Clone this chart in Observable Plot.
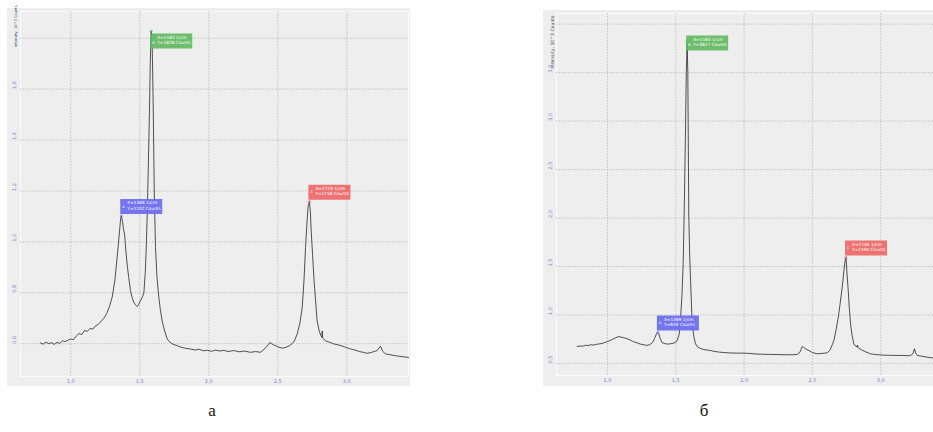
<!DOCTYPE html>
<html>
<head>
<meta charset="utf-8">
<script src="https://cdn.jsdelivr.net/npm/d3@7"></script>
<script src="https://cdn.jsdelivr.net/npm/@observablehq/plot@0.6"></script>
<style>
  html, body { margin: 0; padding: 0; background: #fff; }
  #root { position: relative; width: 933px; height: 432px; overflow: hidden; background: #fff; }
  .panel { position: absolute; }
  .cap { position: absolute; font-family: "Liberation Serif", "DejaVu Serif", serif; font-size: 17px; color: #111; transform: translateX(-50%); }
</style>
</head>
<body>
<div id="root">
  <div class="panel" id="pa" style="left:7px; top:8px;"></div>
  <div class="panel" id="pb" style="left:543px; top:10px;"></div>
  <div class="cap" style="left:212px; top:401px;">а</div>
  <div class="cap" style="left:704px; top:401px;">б</div>
</div>
<script>
// ---------- Data (x: Raman shift, 10^3 1/cm; y: intensity, 10^3 counts) ----------
const shiftA = [0.78,0.80,0.82,0.84,0.86,0.88,0.90,0.92,0.94,0.96,0.98,1.00,1.02,1.04,1.06,1.08,1.10,1.12,1.14,1.16,1.18,1.20,1.22,1.24,1.26,1.28,1.30,1.32,1.336,1.35,1.36,1.366,1.375,1.382,1.39,1.40,1.41,1.42,1.433,1.445,1.457,1.47,1.481,1.49,1.505,1.52,1.53,1.54,1.548,1.555,1.562,1.57,1.576,1.583,1.59,1.597,1.605,1.614,1.625,1.638,1.65,1.662,1.68,1.699,1.72,1.74,1.771,1.80,1.83,1.867,1.90,1.93,1.96,1.99,2.02,2.05,2.08,2.11,2.14,2.18,2.22,2.26,2.30,2.34,2.375,2.40,2.423,2.442,2.46,2.471,2.50,2.532,2.56,2.592,2.62,2.641,2.66,2.677,2.69,2.701,2.712,2.72,2.729,2.736,2.742,2.752,2.763,2.775,2.785,2.80,2.812,2.82,2.822,2.825,2.85,2.88,2.906,2.94,2.97,3.00,3.027,3.06,3.09,3.12,3.148,3.18,3.22,3.244,3.26,3.28,3.32,3.36,3.40,3.447];
const countsA = [0.603,0.598,0.606,0.600,0.604,0.597,0.605,0.601,0.611,0.608,0.614,0.618,0.616,0.630,0.640,0.636,0.652,0.648,0.660,0.657,0.670,0.676,0.688,0.700,0.718,0.745,0.782,0.850,0.938,1.020,1.082,1.102,1.080,1.050,1.030,0.960,0.905,0.860,0.808,0.780,0.762,0.752,0.746,0.752,0.769,0.785,0.800,0.880,0.990,1.130,1.300,1.500,1.700,1.828,1.780,1.550,1.200,0.978,0.860,0.782,0.730,0.690,0.650,0.618,0.605,0.598,0.592,0.586,0.582,0.579,0.575,0.578,0.572,0.574,0.570,0.575,0.571,0.574,0.569,0.573,0.568,0.571,0.566,0.569,0.566,0.578,0.590,0.605,0.598,0.595,0.588,0.582,0.586,0.594,0.610,0.638,0.680,0.742,0.850,0.978,1.080,1.140,1.158,1.120,1.043,0.950,0.847,0.760,0.690,0.650,0.632,0.625,0.650,0.622,0.610,0.605,0.599,0.595,0.590,0.584,0.579,0.575,0.569,0.566,0.562,0.566,0.573,0.590,0.570,0.560,0.556,0.552,0.549,0.546];

const shiftB = [0.778,0.80,0.82,0.84,0.86,0.876,0.90,0.92,0.94,0.96,0.973,1.00,1.02,1.046,1.06,1.083,1.10,1.12,1.144,1.17,1.19,1.217,1.24,1.27,1.29,1.31,1.33,1.345,1.36,1.369,1.376,1.385,1.40,1.42,1.44,1.461,1.48,1.50,1.51,1.525,1.534,1.545,1.554,1.562,1.57,1.577,1.583,1.588,1.595,1.601,1.608,1.615,1.62,1.632,1.644,1.66,1.68,1.705,1.73,1.754,1.78,1.82,1.851,1.90,1.95,1.998,2.04,2.08,2.12,2.16,2.193,2.24,2.30,2.35,2.389,2.41,2.425,2.435,2.45,2.48,2.50,2.535,2.57,2.608,2.63,2.657,2.675,2.693,2.718,2.732,2.742,2.746,2.752,2.762,2.77,2.779,2.79,2.803,2.815,2.827,2.829,2.835,2.86,2.89,2.925,2.96,3.00,3.04,3.08,3.12,3.16,3.20,3.218,3.235,3.247,3.255,3.267,3.30,3.34,3.386];
const countsB = [0.675,0.680,0.678,0.688,0.684,0.693,0.690,0.698,0.702,0.706,0.713,0.725,0.738,0.755,0.765,0.778,0.772,0.765,0.755,0.740,0.725,0.713,0.700,0.692,0.686,0.695,0.715,0.760,0.810,0.819,0.806,0.760,0.715,0.705,0.700,0.703,0.708,0.720,0.737,0.800,0.943,1.200,1.528,2.100,2.800,3.500,3.817,3.500,2.043,1.650,1.356,1.100,0.909,0.780,0.703,0.670,0.655,0.644,0.638,0.634,0.625,0.617,0.613,0.608,0.607,0.606,0.604,0.598,0.596,0.594,0.593,0.592,0.590,0.590,0.593,0.620,0.675,0.665,0.651,0.630,0.612,0.600,0.603,0.610,0.640,0.737,0.860,1.012,1.287,1.480,1.590,1.594,1.450,1.253,1.070,0.909,0.790,0.703,0.680,0.670,0.690,0.662,0.640,0.620,0.600,0.592,0.588,0.585,0.584,0.582,0.583,0.580,0.582,0.600,0.651,0.610,0.582,0.575,0.565,0.555];

// Peak markers (cm^-1 and counts as shown in the labels)
const peakLetters = ["A", "B", "C"];
const peakCmA = [1366, 1583, 2729];
const peakCountsA = [1102, 1828, 1158];
const peakCmB = [1369, 1583, 2746];
const peakCountsB = [819, 3817, 1594];
const peakColors = ["#6a6af0", "#62b962", "#ee6767"];

const xTickValues = [1.0, 1.5, 2.0, 2.5, 3.0];
const yGridA = [0.6, 0.8, 1.0, 1.2, 1.4, 1.6, 1.8];
const yLabelsA = [0.6, 0.8, 1.0, 1.2, 1.4, 1.6];
const yGridB = [0.5, 1.0, 1.5, 2.0, 2.5, 3.0, 3.5, 4.0];
const yLabelsB = [0.5, 1.0, 1.5, 2.0, 2.5, 3.0, 3.5];
const axisTitle = "Intensity, 10^3 Counts";

// ---------- Drawing ----------
const fmt = d => d.toFixed(1).replace(".", ",");
const tickColor = "#7f7fcc";

const boxAbove = { draw(ctx) { ctx.rect(-1, -17, 42, 15); } };
const boxTop = { draw(ctx) { ctx.rect(-1, 22, 42, 15); } };

function panel({shift, counts, cm, cnt, xDomain, yDomain, yGrid, yLabels, width, height, margin, titleSize, titleDy}) {
  const line = shift.map((x, i) => ({x, y: counts[i]}));
  const peaks = cm.map((c, i) => ({
    x: c / 1000, y: cnt[i] / 1000, letter: peakLetters[i], color: peakColors[i],
    text: `X=${c} 1/cm\nY=${cnt[i]} Counts`
  }));
  const maxY = d3.max(peaks, d => d.y);
  const top = peaks.filter(d => d.y === maxY);
  const rest = peaks.filter(d => d.y !== maxY);
  return Plot.plot({
    width, height,
    marginLeft: margin[0], marginTop: margin[1], marginRight: margin[2], marginBottom: margin[3],
    style: { background: "#eeeeee", fontFamily: "DejaVu Sans", overflow: "visible" },
    x: { domain: xDomain },
    y: { domain: yDomain, axis: null },
    marks: [
      Plot.frame({ stroke: "#fbfbfb", strokeWidth: 1 }),
      Plot.gridX(xTickValues, { stroke: "#b8b8b8", strokeOpacity: 1, strokeDasharray: "1.5,1.5", strokeWidth: 0.8 }),
      Plot.gridY(yGrid, { stroke: "#b8b8b8", strokeOpacity: 1, strokeDasharray: "1.5,1.5", strokeWidth: 0.8 }),
      Plot.axisX(xTickValues, { tickSize: 0, tickPadding: 3, fontSize: 5, fill: tickColor, tickFormat: fmt, label: null }),
      Plot.text(yLabels, { y: d => d, frameAnchor: "left", rotate: -90, dx: -6, fontSize: 5, fill: tickColor, text: fmt }),
      Plot.text([axisTitle], { frameAnchor: "top-left", rotate: -90, textAnchor: "end", dx: -6, dy: titleDy, fontSize: titleSize, fill: "#3a3a5a" }),
      Plot.line(line, { x: "x", y: "y", stroke: "#262626", strokeWidth: 0.8 }),
      Plot.dot(peaks, { x: "x", y: "y", r: 1.2, stroke: d => d.color, fill: "none", strokeWidth: 0.6 }),
      Plot.dot(rest, { x: "x", y: "y", symbol: boxAbove, fill: d => d.color, fillOpacity: 0.92, r: 4 }),
      Plot.text(rest, { x: "x", y: "y", text: "text", dx: 6, dy: -15.5, textAnchor: "start", lineAnchor: "top", lineHeight: 1.25, fontSize: 4.3, fill: "#fff" }),
      Plot.text(rest, { x: "x", y: "y", text: "letter", dx: 1, dy: -9.5, textAnchor: "start", fontSize: 3.5, fill: "#fff" }),
      Plot.dot(top, { x: "x", frameAnchor: "top", symbol: boxTop, fill: d => d.color, fillOpacity: 0.92, r: 4 }),
      Plot.text(top, { x: "x", frameAnchor: "top", text: "text", dx: 6, dy: 23.5, textAnchor: "start", lineAnchor: "top", lineHeight: 1.25, fontSize: 4.3, fill: "#fff" }),
      Plot.text(top, { x: "x", frameAnchor: "top", text: "letter", dx: 1, dy: 29.5, textAnchor: "start", fontSize: 3.5, fill: "#fff" })
    ]
  });
}

document.getElementById("pa").append(panel({
  shift: shiftA, counts: countsA, cm: peakCmA, cnt: peakCountsA,
  xDomain: [0.636, 3.447], yDomain: [0.471, 1.905],
  yGrid: yGridA, yLabels: yLabelsA,
  width: 403, height: 378, margin: [13, 3, 2, 10], titleSize: 3.6, titleDy: -6
}));

document.getElementById("pb").append(panel({
  shift: shiftB, counts: countsB, cm: peakCmB, cnt: peakCountsB,
  xDomain: [0.627, 3.386], yDomain: [0.376, 4.11],
  yGrid: yGridB, yLabels: yLabelsB,
  width: 390, height: 376, margin: [13, 3, 0, 11], titleSize: 4.6, titleDy: 2
}));
</script>
</body>
</html>
